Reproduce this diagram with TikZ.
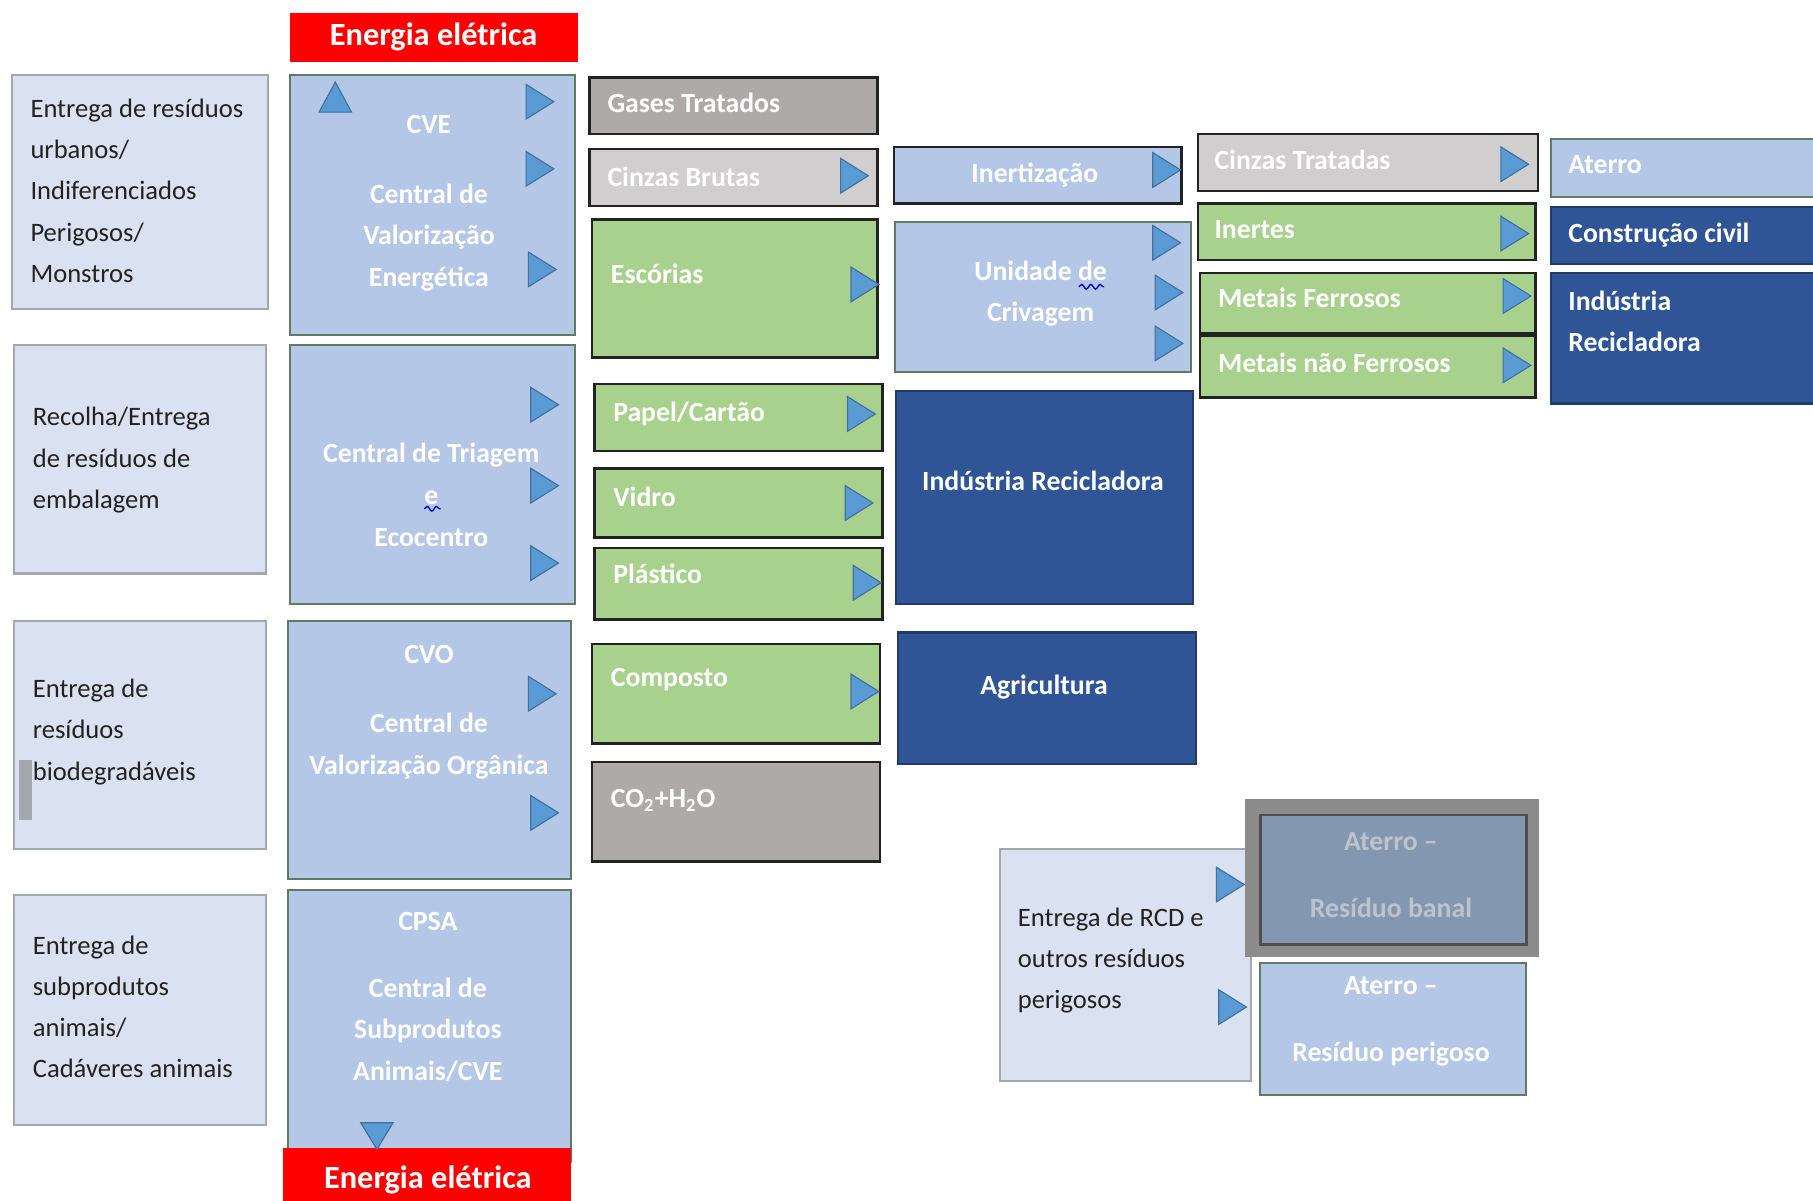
\documentclass[tikz,border=0pt]{standalone}
\usepackage{fontspec}
\setmainfont{Carlito}
\usetikzlibrary{fit,decorations.pathmorphing}
\definecolor{lav}{HTML}{DAE1F1}
\definecolor{lavbd}{HTML}{A3A7AE}
\definecolor{midb}{HTML}{B4C7E7}
\definecolor{gbord}{HTML}{5E7B63}
\definecolor{grn}{HTML}{A9D18E}
\definecolor{dgray}{HTML}{AEAAAA}
\definecolor{lgray}{HTML}{D0CECE}
\definecolor{dblue}{HTML}{2F5597}
\definecolor{trib}{HTML}{5B9BD5}
\definecolor{trie}{HTML}{41719C}
\definecolor{redb}{HTML}{FF0000}
\definecolor{banal}{HTML}{8497B0}
\definecolor{frameg}{HTML}{8C8C8C}
\definecolor{banaltx}{HTML}{BDC3CC}
\definecolor{txt}{HTML}{222222}
\newcommand{\rtri}[3]{\filldraw[tri] ({#2},{#3-15}) -- ({#2+24},{#3}) -- ({#2},{#3+15}) -- cycle;}
\begin{document}
\begin{tikzpicture}[x=0.5pt,y=-0.5pt,
  box/.style={rectangle,inner sep=0pt,outer sep=0pt},
  lavbox/.style={box,fill=lav,draw=lavbd,line width=0.9pt},
  midbox/.style={box,fill=midb,draw=gbord,line width=0.9pt},
  redbox/.style={box,fill=redb,draw=none},
  grnbox/.style={box,fill=grn,draw=txt,line width=1.1pt},
  dgbox/.style={box,fill=dgray,draw=txt,line width=1.1pt},
  lgbox/.style={box,fill=lgray,draw=txt,line width=1.1pt},
  dbbox/.style={box,fill=dblue,draw=dblue!70!black,line width=0.9pt},
  tri/.style={fill=trib,draw=trie,line width=0.5pt},
  lt/.style={inner sep=0pt,text=txt,align=left,anchor=west,font=\fontsize{11.5}{17.8}\selectfont},
  wt/.style={inner sep=0pt,text=white,font=\bfseries\fontsize{12}{18}\selectfont},
  wtl/.style={wt,anchor=west,align=left},
  wtc/.style={wt,anchor=center,align=center},
  rt/.style={inner sep=0pt,text=white,font=\bfseries\fontsize{14}{16}\selectfont},
  squig/.style={draw=blue!80!black,line width=0.6pt,decorate,decoration={snake,amplitude=1pt,segment length=4pt}}
]
\useasboundingbox (0,0) rectangle (1568,1038);
\fill[white] (0,0) rectangle (1568,1038);

% ---- left column
\node[lavbox,fit={(10,65)(232,267)}] (in1) {};
\node[lavbox,fit={(12,298)(230,496)}] (in2) {};
\node[lavbox,fit={(12,537)(230,734)}] (in3) {};
\node[lavbox,fit={(12,774)(230,973)}] (in4) {};
\node[box,fill=lavbd,fit={(16,657)(28,709)}] (bar) {};
\node[lt] (in1t) at (26,165) {Entrega de resíduos\\urbanos/\\Indiferenciados\\Perigosos/\\Monstros};
\node[lt] (in2t) at (28,398) {Recolha/Entrega\\de resíduos de\\embalagem};
\node[lt] (in3t) at (28,633) {Entrega de\\resíduos\\biodegradáveis};
\node[lt] (in4t) at (28,871) {Entrega de\\subprodutos\\animais/\\Cadáveres animais};

% ---- second column
\node[redbox,fit={(251,11)(500,54)}] (ee1) {};
\node[rt] (ee1t) at (375,32) {Energia elétrica};
\node[midbox,fit={(251,65)(497,290)}] (cve) {};
\node[midbox,fit={(251,298)(497,522)}] (ct) {};
\node[midbox,fit={(249,537)(494,760)}] (cvo) {};
\node[midbox,fit={(249,770)(494,1005)}] (cpsa) {};
\node[redbox,fit={(245,993)(494,1045)}] (ee2) {};
\node[rt] (ee2t) at (370,1020) {Energia elétrica};
\node[wtc] (cvet) at (371,176) {CVE\\[12pt]Central de\\Valorização\\Energética};
\node[wtc] (ctt) at (373,428) {Central de Triagem\\e\\Ecocentro};
\draw[squig] (367,440) -- (381,440);
\node[wtc] (cvot) at (371,616) {CVO\\[12pt]Central de\\Valorização Orgânica};
\node[wtc] (cpsat) at (370,862) {CPSA\\[11pt]Central de\\Subprodutos\\Animais/CVE};
\filldraw[tri] (276,97) -- (304,97) -- (290,71) -- cycle;
\filldraw[tri] (312,971) -- (340,971) -- (326,994) -- cycle;
\rtri{}{455}{88}\rtri{}{455}{146}\rtri{}{457}{233}
\rtri{}{459}{350}\rtri{}{459}{420}\rtri{}{459}{487}
\rtri{}{457}{600}\rtri{}{459}{703}

% ---- third column
\node[dgbox,fit={(510,67)(759,116)}] (gas) {};
\node[lgbox,fit={(510,129)(759,178)}] (cb) {};
\node[grnbox,fit={(512,190)(759,309)}] (esc) {};
\node[grnbox,fit={(514,332)(763,390)}] (pap) {};
\node[grnbox,fit={(514,405)(763,465)}] (vid) {};
\node[grnbox,fit={(514,474)(763,536)}] (pla) {};
\node[grnbox,fit={(512,557)(761,643)}] (com) {};
\node[dgbox,fit={(512,659)(761,745)}] (co2) {};
\node[wtl] (gast) at (525,89) {Gases Tratados};
\node[wtl] (cbt) at (525,153) {Cinzas Brutas};
\node[wtl] (esct) at (528,237) {Escórias};
\node[wtl] (papt) at (530,358) {Papel/Cartão};
\node[wtl] (vidt) at (530,430) {Vidro};
\node[wtl] (plat) at (530,496) {Plástico};
\node[wtl] (comt) at (528,588) {Composto};
\node[wtl] (co2t) at (528,692) {CO\textsubscript{2}+H\textsubscript{2}O};
\rtri{}{727}{152}\rtri{}{736}{246}\rtri{}{733}{358}\rtri{}{731}{435}\rtri{}{738}{504}\rtri{}{736}{598}

% ---- fourth column
\node[midbox,draw=txt,line width=1.1pt,fit={(773,127)(1022,176)}] (ine) {};
\node[midbox,fit={(774,192)(1030,322)}] (uc) {};
\node[dbbox,fit={(775,338)(1032,522)}] (ir) {};
\node[dbbox,fit={(777,547)(1034,661)}] (agr) {};
\node[wtc] (inet) at (895,151) {Inertização};
\node[wtc] (uct) at (900,254) {Unidade de\\Crivagem};
\draw[squig] (933,248) -- (955,248);
\node[wtc] (irt) at (902,416) {Indústria Recicladora};
\node[wtc] (agrt) at (903,594) {Agricultura};
\rtri{}{997}{147}\rtri{}{997}{210}\rtri{}{999}{253}\rtri{}{999}{297}

% ---- fifth column
\node[lgbox,fit={(1036,116)(1330,165)}] (ct2) {};
\node[grnbox,fit={(1036,176)(1328,225)}] (iner) {};
\node[grnbox,fit={(1038,236)(1328,288)}] (mf) {};
\node[grnbox,fit={(1038,290)(1328,344)}] (mnf) {};
\node[wtl] (ct2t) at (1050,138) {Cinzas Tratadas};
\node[wtl] (inert) at (1050,199) {Inertes};
\node[wtl] (mft) at (1053,258) {Metais Ferrosos};
\node[wtl] (mnft) at (1053,314) {Metais não Ferrosos};
\rtri{}{1298}{142}\rtri{}{1298}{202}\rtri{}{1300}{256}\rtri{}{1300}{316}

% ---- sixth column
\node[midbox,fit={(1341,120)(1572,170)}] (ate) {};
\node[dbbox,fit={(1341,179)(1572,228)}] (cc) {};
\node[dbbox,fit={(1341,236)(1572,349)}] (ir2) {};
\node[wtl] (atet) at (1356,142) {Aterro};
\node[wtl] (cct) at (1356,203) {Construção civil};
\node[wtl] (ir2t) at (1356,278) {Indústria\\Recicladora};

% ---- bottom right
\node[lavbox,fit={(865,734)(1082,935)}] (rcd) {};
\node[lt] (rcdt) at (880,831) {Entrega de RCD e\\outros resíduos\\perigosos};
\node[box,fill=frameg,fit={(1077,691)(1331,828)}] (banf) {};
\node[box,fill=banal,draw=txt!80,line width=1.1pt,fit={(1090,705)(1320,817)}] (ban) {};
\node[wt,text=banaltx,anchor=center,align=center] (bant) at (1203,757) {Aterro --\\[11pt]Resíduo banal};
\node[midbox,fit={(1090,833)(1320,947)}] (per) {};
\node[wtc] (pert) at (1203,883) {Aterro --\\[11pt]Resíduo perigoso};
\rtri{}{1052}{765}\rtri{}{1054}{871}
\end{tikzpicture}
\end{document}
